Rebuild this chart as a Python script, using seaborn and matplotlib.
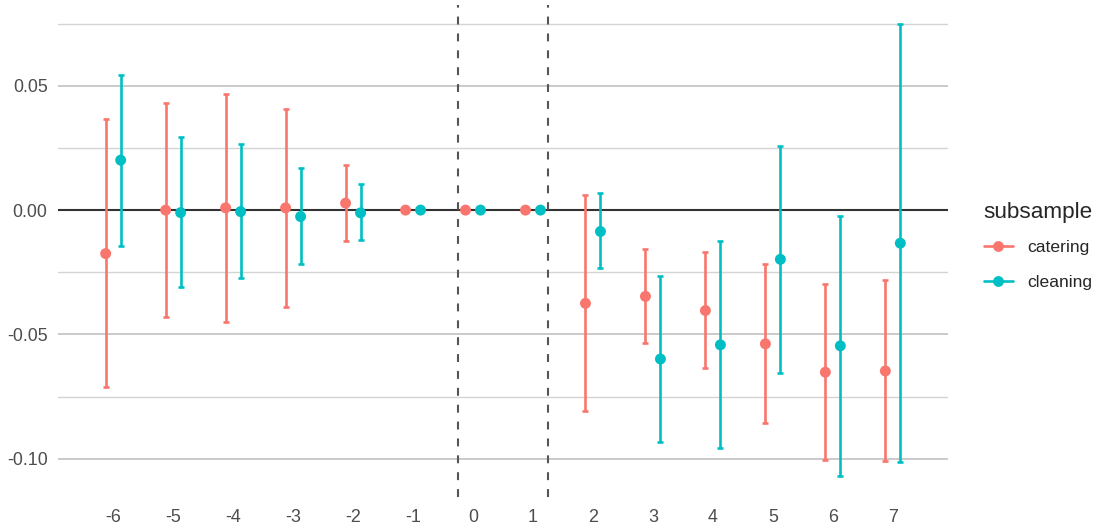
import numpy as np
import pandas as pd
import matplotlib.pyplot as plt
from matplotlib.lines import Line2D
import seaborn as sns

# event-study estimates
events = [-6, -5, -4, -3, -2, -1, 0, 1, 2, 3, 4, 5, 6, 7]

catering_est = [-0.0175, 0.0000, 0.0009, 0.0009, 0.0028, 0.0, 0.0, 0.0,
                -0.0375, -0.0347, -0.0404, -0.0538, -0.0652, -0.0647]
catering_lo = [-0.0713, -0.0430, -0.0449, -0.0389, -0.0126, np.nan, np.nan, np.nan,
               -0.0807, -0.0535, -0.0637, -0.0858, -0.1006, -0.1011]
catering_hi = [0.0366, 0.0429, 0.0466, 0.0407, 0.0183, np.nan, np.nan, np.nan,
               0.0060, -0.0156, -0.0170, -0.0216, -0.0298, -0.0281]

cleaning_est = [0.0201, -0.0010, -0.0006, -0.0026, -0.0011, 0.0, 0.0, 0.0,
                -0.0086, -0.0599, -0.0542, -0.0198, -0.0546, -0.0133]
cleaning_lo = [-0.0145, -0.0310, -0.0275, -0.0216, -0.0121, np.nan, np.nan, np.nan,
               -0.0234, -0.0932, -0.0957, -0.0656, -0.1071, -0.1015]
cleaning_hi = [0.0544, 0.0293, 0.0265, 0.0169, 0.0103, np.nan, np.nan, np.nan,
               0.0067, -0.0266, -0.0126, 0.0258, -0.0022, 0.0750]

groups = ["catering", "cleaning"]
palette = {"catering": "#F8766D", "cleaning": "#00BFC4"}
dodge = {"catering": -0.125, "cleaning": 0.125}

df = pd.concat([
    pd.DataFrame({"event": events, "est": catering_est, "lo": catering_lo,
                  "hi": catering_hi, "subsample": "catering"}),
    pd.DataFrame({"event": events, "est": cleaning_est, "lo": cleaning_lo,
                  "hi": cleaning_hi, "subsample": "cleaning"}),
], ignore_index=True)
df["pos"] = df["event"] + df["subsample"].map(dodge)

sns.set_theme(style="white")
plt.rcParams["font.family"] = ["Liberation Sans", "DejaVu Sans"]

fig = plt.figure(figsize=(10.99, 5.29), dpi=100)
ax = fig.add_axes([58 / 1099, 32 / 529, 890 / 1099, 492 / 529])

# grid (horizontal only, like theme_minimal without x grid)
for y in [-0.10, -0.05, 0.0, 0.05]:
    ax.axhline(y, color="#c6c6c6", lw=1.3, zorder=0)
for y in [-0.075, -0.025, 0.025, 0.075]:
    ax.axhline(y, color="#d4d4d4", lw=1.0, zorder=0)

ax.axhline(0, color="#333333", lw=1.5, zorder=1)
for xv in [-0.25, 1.25]:
    ax.axvline(xv, color="#555555", lw=1.5, linestyle=(0, (3.8, 4.3)), zorder=1)

for g in groups:
    sub = df[df["subsample"] == g].dropna(subset=["lo", "hi"])
    ax.errorbar(sub["pos"], sub["est"],
                yerr=[sub["est"] - sub["lo"], sub["hi"] - sub["est"]],
                fmt="none", ecolor=palette[g], elinewidth=1.9,
                capsize=2.2, capthick=1.9, zorder=2)

sns.scatterplot(data=df, x="pos", y="est", hue="subsample", palette=palette,
                s=62, linewidth=0, legend=False, ax=ax, zorder=3)

ax.set_xlim(-6.92, 7.92)
ax.set_ylim(-0.1154, 0.0825)
ax.set_xticks(events)
ax.set_xticklabels([str(e) for e in events])
ax.set_yticks([-0.10, -0.05, 0.0, 0.05])
ax.set_yticklabels(["-0.10", "-0.05", "0.00", "0.05"])
ax.tick_params(axis="x", length=0, pad=9, labelsize=12.9, labelcolor="#4D4D4D")
ax.tick_params(axis="y", length=0, pad=7.5, labelsize=12.9, labelcolor="#4D4D4D")
ax.set_xlabel("")
ax.set_ylabel("")
ax.grid(False)
for s in ax.spines.values():
    s.set_visible(False)

handles = [Line2D([0], [0], color=palette[g], lw=1.9, marker="o",
                  markersize=7.8, markeredgewidth=0) for g in groups]
leg = fig.legend(handles, groups, title="subsample", loc="center left",
                 bbox_to_anchor=(968 / 1099, 1 - 246 / 529), frameon=False,
                 fontsize=12.6, title_fontsize=16.2, handlelength=1.65,
                 handletextpad=0.85, labelspacing=1.1)
leg._legend_box.align = "left"
leg._legend_box.sep = 12

fig.savefig("out.png", dpi=100)
